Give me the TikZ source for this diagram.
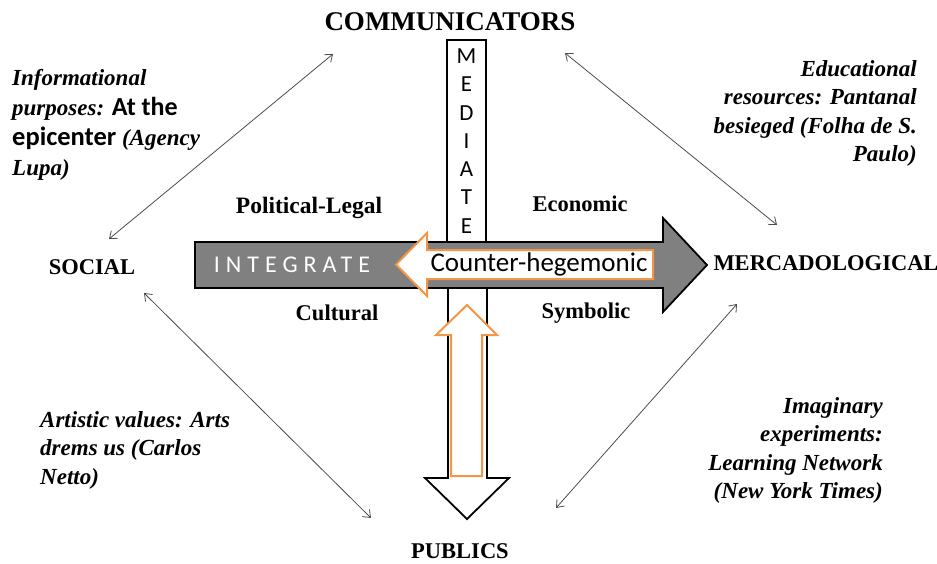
\documentclass[tikz,border=0pt]{standalone}
\usepackage{fontspec}
\setmainfont{Liberation Serif}
\newfontfamily\calib{Carlito}
\usetikzlibrary{arrows.meta}
\definecolor{arrgray}{RGB}{128,128,128}
\definecolor{orng}{RGB}{243,150,70}
\begin{document}
\begin{tikzpicture}[x=1pt,y=-1pt,
  lab/.style={font=\bfseries\fontsize{22.5}{26}\selectfont, inner sep=0pt},
  ital/.style={font=\bfseries\itshape\fontsize{23}{28.5}\selectfont, inner sep=0pt},
  dbl/.style={draw=black!70, line width=0.8pt, {Straight Barb[length=6.5pt,width=10pt]}-{Straight Barb[length=6.5pt,width=10pt]}},
  blk/.style={draw=black, line width=1.8pt, line join=miter},
  orb/.style={draw=orng, line width=2pt, line join=miter, fill=white},
  ]
\useasboundingbox (0,0) rectangle (937,563);

% vertical down arrow (publics)
\draw[blk, fill=white] (448,250) -- (448,478) -- (425,478) -- (467,519) -- (509,478) -- (487,478) -- (487,250);
% orange up arrow
\draw[orb] (451,476) -- (451,335) -- (436,335) -- (467,305) -- (497,335) -- (482,335) -- (482,476) -- cycle;
% gray integrate arrow
\draw[blk, fill=arrgray] (195,242) -- (663,242) -- (663,218) -- (707,265) -- (663,312) -- (663,288) -- (195,288) -- cycle;
% mediate box
\node[draw, line width=1.5pt, fill=white, minimum width=39pt, minimum height=202pt, inner sep=0pt,
      align=center, font=\calib\fontsize{23}{28.3}\selectfont] (med) at (466.5,141) {M\\E\\D\\I\\A\\T\\E};
% orange counter-hegemonic arrow
\draw[orb] (653,250) -- (427,250) -- (427,233) -- (396,264.5) -- (427,296) -- (427,279) -- (653,279) -- cycle;
\node[font=\calib\fontsize{27}{28}\selectfont, inner sep=0pt] (counter) at (539,264) {Counter-hegemonic};
\node[font=\calib\fontsize{24}{26}\selectfont\addfontfeature{LetterSpace=25}, text=white, inner sep=0pt] (integ) at (292,265) {INTEGRATE};

% main labels
\node[lab, font=\bfseries\fontsize{27}{30}\selectfont] (comm) at (450,22) {COMMUNICATORS};
\node[lab] (soc) at (92,267) {SOCIAL};
\node[lab] (merc) at (826,263) {MERCADOLOGICAL};
\node[lab] (pub) at (460,551) {PUBLICS};
\node[lab, font=\bfseries\fontsize{23.5}{26}\selectfont] (pol) at (309,208) {Political-Legal};
\node[lab] (eco) at (580,204) {Economic};
\node[lab] (cul) at (337,313) {Cultural};
\node[lab] (sym) at (586,313) {Symbolic};

% italic blocks
\node[ital, anchor=north west, align=left, font=\bfseries\itshape\fontsize{23}{30}\selectfont] (info) at (12,69)
  {Informational\\purposes: {\calib\upshape\fontsize{26}{30}\selectfont At the}\\{\calib\upshape\fontsize{26.5}{30}\selectfont epicenter} (Agency\\Lupa)};
\node[ital, anchor=north east, align=right] (edu) at (917,60)
  {Educational\\resources: Pantanal\\besieged (Folha de S.\\Paulo)};
\node[ital, anchor=north west, align=left] (art) at (40,411)
  {Artistic values: Arts\\drems us (Carlos\\Netto)};
\node[ital, anchor=north east, align=right] (ima) at (883,397)
  {Imaginary\\experiments:\\Learning Network\\(New York Times)};

% double arrows
\coordinate (ulA) at (109,239); \coordinate (ulB) at (333,54);
\coordinate (urA) at (565,53);  \coordinate (urB) at (777,225);
\coordinate (llA) at (144,293); \coordinate (llB) at (371,518);
\coordinate (lrA) at (556,508); \coordinate (lrB) at (737,304);
\draw[dbl] (ulA) -- (ulB);
\draw[dbl] (urA) -- (urB);
\draw[dbl] (llA) -- (llB);
\draw[dbl] (lrA) -- (lrB);
\end{tikzpicture}
\end{document}
